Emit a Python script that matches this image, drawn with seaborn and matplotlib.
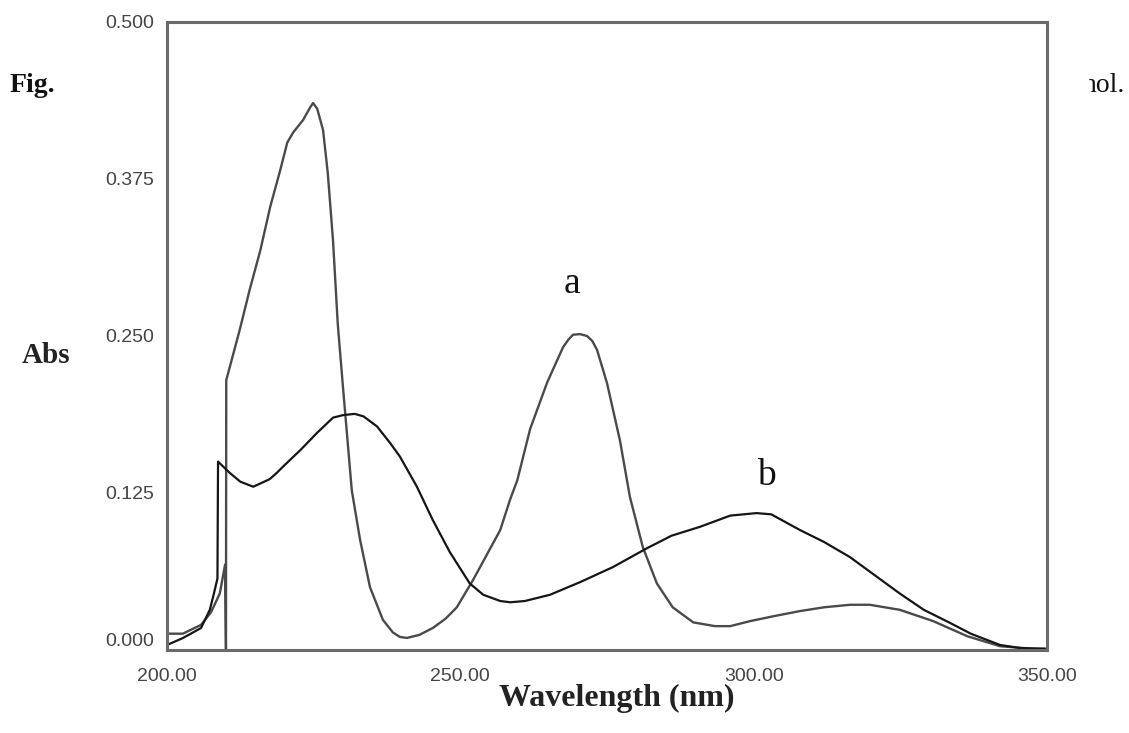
import matplotlib
matplotlib.use("Agg")
import matplotlib.pyplot as plt
import pandas as pd
import seaborn as sns
from matplotlib.transforms import Bbox, ScaledTranslation

# spectrum a: big band at ~225 nm, second band at ~270 nm
wl_a = [200.0, 202.7, 205.8, 207.5, 209.0, 209.9, 210.05, 210.1, 210.4, 212.4,
        214.1, 215.9, 217.6, 219.3, 220.5, 221.5, 223.2, 224.4, 224.9, 225.6,
        226.6, 227.4, 228.3, 229.1, 230.0, 231.5, 232.9, 234.6, 236.8, 238.5,
        239.7, 240.9, 243.0, 245.3, 247.5, 249.4, 252.2, 256.8, 258.5, 259.7,
        261.9, 264.8, 267.5, 268.4, 269.2, 270.4, 271.6, 272.5, 273.3, 275.0,
        277.2, 278.9, 281.1, 283.5, 286.2, 289.7, 293.4, 296.0, 299.4, 303.5,
        307.9, 312.0, 316.4, 319.8, 324.9, 330.6, 336.4, 342.0, 347.6, 349.7]
abs_a = [0.013, 0.013, 0.020, 0.030, 0.045, 0.068, 0.000, 0.215, 0.220, 0.255,
         0.287, 0.318, 0.353, 0.382, 0.404, 0.412, 0.422, 0.432, 0.4355, 0.431,
         0.414, 0.380, 0.326, 0.260, 0.209, 0.127, 0.088, 0.050, 0.024, 0.014,
         0.0104, 0.0096, 0.012, 0.0175, 0.025, 0.034, 0.056, 0.0955, 0.120, 0.135,
         0.176, 0.213, 0.241, 0.247, 0.251, 0.2515, 0.250, 0.246, 0.239, 0.2125,
         0.167, 0.122, 0.082, 0.053, 0.034, 0.022, 0.019, 0.019, 0.023, 0.027,
         0.031, 0.034, 0.036, 0.036, 0.032, 0.023, 0.011, 0.003, 0.001, 0.001]

# spectrum b: broad bands at ~232 nm and ~301 nm
wl_b = [200.0, 202.7, 205.8, 207.3, 208.0, 208.6, 208.7, 210.7, 212.5, 214.7,
        217.5, 218.7, 220.0, 222.7, 225.6, 228.3, 230.0, 232.0, 233.5, 235.8,
        238.0, 239.7, 242.6, 245.3, 248.2, 251.6, 253.9, 256.8, 258.5, 261.0,
        265.3, 270.4, 276.0, 281.8, 286.0, 290.8, 296.0, 300.5, 303.0, 307.9,
        312.0, 316.4, 320.5, 324.9, 329.0, 333.5, 337.0, 342.0, 345.5, 349.7]
abs_b = [0.004, 0.0095, 0.0175, 0.032, 0.045, 0.057, 0.150, 0.141, 0.134, 0.130,
         0.136, 0.141, 0.147, 0.159, 0.173, 0.185, 0.187, 0.188, 0.186, 0.178,
         0.165, 0.154, 0.130, 0.1035, 0.078, 0.053, 0.044, 0.039, 0.038, 0.039,
         0.044, 0.054, 0.066, 0.081, 0.091, 0.098, 0.107, 0.109, 0.108, 0.0955,
         0.086, 0.074, 0.060, 0.045, 0.032, 0.0215, 0.013, 0.004, 0.0015, 0.001]

x_ticks = [200, 250, 300, 350]
x_ticklabels = ["200.00", "250.00", "300.00", "350.00"]
y_ticks = [0.0, 0.125, 0.25, 0.375, 0.5]
y_ticklabels = ["0.000", "0.125", "0.250", "0.375", "0.500"]

df_a = pd.DataFrame({"wl": wl_a, "abs": abs_a})
df_b = pd.DataFrame({"wl": wl_b, "abs": abs_b})

sns.set_theme(style="white")
plt.rcParams["font.family"] = ["Liberation Serif", "DejaVu Serif"]

fig = plt.figure(figsize=(11.29, 7.33), dpi=100)
ax = fig.add_axes([167 / 1129, 1 - 650 / 733, 880 / 1129, 628 / 733])

sns.lineplot(data=df_a, x="wl", y="abs", ax=ax, estimator=None, sort=False,
             color="#4a4a4a", lw=1.7)
sns.lineplot(data=df_b, x="wl", y="abs", ax=ax, estimator=None, sort=False,
             color="#151515", lw=1.6)

ax.set_xlim(200, 350)
ax.set_ylim(0, 0.5)
ax.set_xticks(x_ticks)
ax.set_xticklabels(x_ticklabels)
ax.set_yticks(y_ticks)
ax.set_yticklabels(y_ticklabels)
ax.set_xlabel("")
ax.set_ylabel("")
ax.tick_params(length=0, labelsize=14, labelcolor="#444444")
ax.tick_params(axis="x", pad=13)
ax.tick_params(axis="y", pad=9)
for lbl in ax.get_xticklabels() + ax.get_yticklabels():
    lbl.set_family(["Liberation Sans", "DejaVu Sans"])
for sp in ax.spines.values():
    sp.set_color("#6a6a6a")
    sp.set_linewidth(2.2)

# the 0.000 label sits a little higher in the original
zero_lbl = ax.yaxis.get_major_ticks()[0].label1
zero_lbl.set_transform(zero_lbl.get_transform()
                       + ScaledTranslation(0, 0.11, fig.dpi_scale_trans))

# curve labels
ax.text(269.0, 0.284, "a", fontsize=27, ha="center", va="baseline", color="#111111")
ax.text(302.1, 0.131, "b", fontsize=27, ha="center", va="baseline", color="#111111")

# axis titles and caption fragments
fig.text(22 / 1129, 1 - 363 / 733, "Abs", fontsize=21, fontweight="bold",
         ha="left", va="baseline", color="#222222")
fig.text(617 / 1129, 1 - 706 / 733, "Wavelength (nm)", fontsize=23,
         fontweight="bold", ha="center", va="baseline", color="#222222")
fig.text(10 / 1129, 1 - 92 / 733, "Fig.", fontsize=20, fontweight="bold",
         ha="left", va="baseline", color="#111111")
t = fig.text(1125 / 1129, 1 - 92 / 733, "nol.", fontsize=20,
             ha="right", va="baseline", color="#111111")
t.set_clip_box(Bbox.from_extents(1089, 0, 1129, 733))
t.set_clip_on(True)

fig.savefig("out.png", dpi=100)
plt.close(fig)
